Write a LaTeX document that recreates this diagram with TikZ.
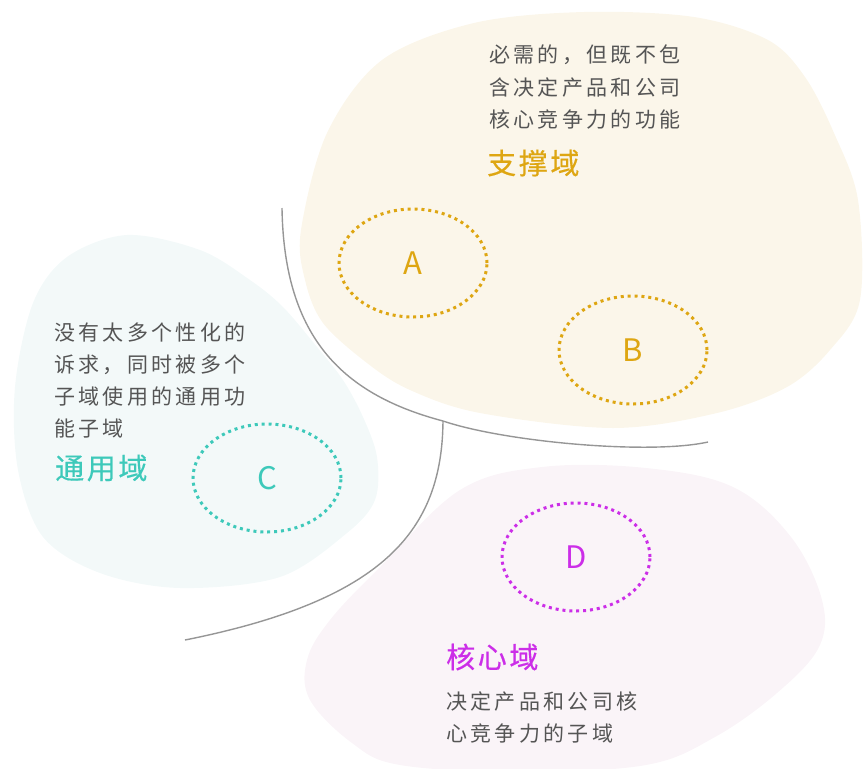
\documentclass[tikz,border=0pt]{standalone}
\usepackage{fontspec}
\usetikzlibrary{shapes.geometric}
\setmainfont{Noto Sans CJK SC}
\newfontfamily\cjkbody[LetterSpace=16]{Noto Sans CJK SC}
\newfontfamily\cjktitle[LetterSpace=9,FakeBold=0.4]{Noto Sans CJK SC}
\definecolor{gold}{RGB}{222,166,18}
\definecolor{tealc}{RGB}{61,201,186}
\definecolor{magc}{RGB}{204,46,232}
\definecolor{linegray}{RGB}{150,150,150}
\definecolor{txtgray}{RGB}{85,85,85}
\definecolor{beige}{RGB}{251,246,234}
\definecolor{tealbg}{RGB}{243,249,249}
\definecolor{pinkbg}{RGB}{250,244,248}
\tikzset{
  bodytxt/.style={anchor=west,inner sep=0pt,text=txtgray,font=\cjkbody\fontsize{21}{25}\selectfont},
  titletxt/.style={anchor=west,inner sep=0pt,font=\cjktitle\fontsize{29}{33}\selectfont},
  subdom/.style={ellipse,minimum width=148pt,minimum height=108pt,inner sep=0pt,
    line width=3pt,dash pattern=on 3pt off 3.9pt,font=\fontsize{31}{35}\selectfont},
  divider/.style={draw=linegray,line width=1.4pt}
}
\begin{document}
\begin{tikzpicture}[x=1pt,y=-1pt]
\useasboundingbox (0,0) rectangle (863,769);
% support blob
\fill[beige] plot[smooth cycle,tension=0.55] coordinates {
 (301,230) (327,133) (382,60) (474,23) (584,12) (694,17) (768,40) (805,77)
 (834,133) (858,200) (860,300) (830,350) (787,387) (717,413) (613,428)
 (480,413) (410,390) (367,363) (323,323) (305,280)};
% generic blob
\fill[tealbg] plot[smooth cycle,tension=0.55] coordinates {
 (127,235) (200,250) (250,280) (283,307) (317,347) (343,380) (363,417)
 (377,457) (375,500) (347,533) (280,577) (180,588) (100,573) (43,537)
 (18,470) (15,387) (33,303) (67,257)};
% core blob
\fill[pinkbg] plot[smooth cycle,tension=0.6] coordinates {
 (460,490) (542,467) (646,468) (733,487) (791,537) (822,600) (819,647)
 (777,693) (715,737) (646,765) (520,772) (400,765) (352,743) (310,700)
 (307,660) (330,620) (380,567)};
% dividers
\coordinate (top) at (282,208);
\coordinate (j) at (443,421);
\coordinate (r) at (708,442);
\coordinate (bl) at (185,640);
\draw[divider] (top) .. controls (284,340) and (345,395) .. (j)
  .. controls (505,442) and (650,455) .. (r);
\draw[divider] (j) .. controls (442,530) and (385,600) .. (bl);
% subdomains
\node[subdom,draw=gold,text=gold] (A) at (413,263) {A};
\node[subdom,draw=gold,text=gold] (B) at (633,350) {B};
\node[subdom,draw=tealc,text=tealc] (C) at (267,478) {C};
\node[subdom,draw=magc,text=magc] (D) at (576,557) {D};
% support texts
\node[bodytxt] (s1) at (489,55) {必需的，但既不包};
\node[bodytxt] (s2) at (489,88) {含决定产品和公司};
\node[bodytxt] (s3) at (489,120) {核心竞争力的功能};
\node[titletxt,text=gold] (st) at (487,163) {支撑域};
% generic texts
\node[bodytxt] (g1) at (54,332) {没有太多个性化的};
\node[bodytxt] (g2) at (54,365) {诉求，同时被多个};
\node[bodytxt] (g3) at (54,397) {子域使用的通用功};
\node[bodytxt] (g4) at (54,428) {能子域};
\node[titletxt,text=tealc] (gt) at (55,468) {通用域};
% core texts
\node[titletxt,text=magc] (ct) at (446,657) {核心域};
\node[bodytxt] (c1) at (446,702) {决定产品和公司核};
\node[bodytxt] (c2) at (446,734) {心竞争力的子域};
\end{tikzpicture}
\end{document}
